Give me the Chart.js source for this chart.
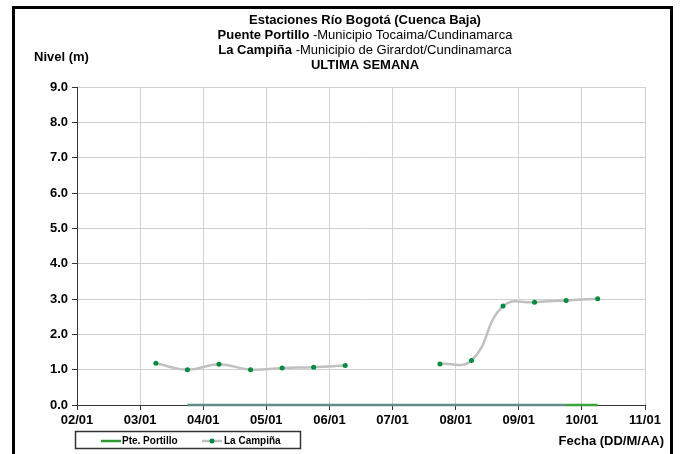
<!DOCTYPE html>
<html>
<head>
<meta charset="utf-8">
<script src="https://cdn.jsdelivr.net/npm/chart.js@4.4.0/dist/chart.umd.min.js"></script>
<style>
body { margin: 0; background: #fff; }
#wrap { position: relative; width: 684px; height: 454px; overflow: hidden; }
#frame { position: absolute; left: 12px; top: 6px; width: 655px; height: 460px; border: 3px solid #000; border-bottom: none; }
</style>
</head>
<body>
<div id="wrap"><canvas id="chartNivel" width="684" height="454"></canvas><div id="frame"></div></div>
<script>
// x values are days of January (3.25 = 03/01 06:00)
var dayTicks = [2, 3, 4, 5, 6, 7, 8, 9, 10, 11];
var tickLabels = ["02/01", "03/01", "04/01", "05/01", "06/01", "07/01", "08/01", "09/01", "10/01", "11/01"];

var portilloTimes = [3.75, 4.25, 4.75, 5.25, 5.75, 6.25, 6.75, 7.25, 7.75, 8.25, 8.75, 9.25, 9.75, 10.25];
var portilloLevels = [0, 0, 0, 0, 0, 0, 0, 0, 0, 0, 0, 0, 0, 0];

var campinaTimes = [3.25, 3.75, 4.25, 4.75, 5.25, 5.75, 6.25, 6.75, 7.25, 7.75, 8.25, 8.75, 9.25, 9.75, 10.25];
var campinaLevels = [1.18, 1.0, 1.15, 1.0, 1.05, 1.07, 1.12, null, null, 1.16, 1.26, 2.8, 2.91, 2.96, 3.01];

var FONT = "'Liberation Sans', Arial, sans-serif";

function pairs(xs, ys) {
    return xs.map(function (x, i) { return { x: x, y: ys[i] }; });
}

var titlePlugin = {
    id: "titleText",
    afterDraw: function (chart) {
        var c = chart.ctx;
        var cx = 365;
        var lines = [
            [["Estaciones Río Bogotá (Cuenca Baja)", true]],
            [["Puente Portillo", true], [" -Municipio Tocaima/Cundinamarca", false]],
            [["La Campiña", true], [" -Municipio de Girardot/Cundinamarca", false]],
            [["ULTIMA SEMANA", true]],
        ];
        c.save();
        c.fillStyle = "#000";
        c.textBaseline = "middle";
        c.textAlign = "left";
        lines.forEach(function (parts, i) {
            var y = 20 + i * 15.3;
            var total = 0;
            parts.forEach(function (p) {
                c.font = (p[1] ? "bold " : "") + "13px " + FONT;
                total += c.measureText(p[0]).width;
            });
            var x = cx - total / 2;
            parts.forEach(function (p) {
                c.font = (p[1] ? "bold " : "") + "13px " + FONT;
                c.fillText(p[0], x, y);
                x += c.measureText(p[0]).width;
            });
        });

        c.font = "bold 13px " + FONT;
        c.fillText("Nivel (m)", 34, 57);
        c.textAlign = "right";
        c.fillText("Fecha (DD/M/AA)", 664, 441);

        // legend box
        c.strokeStyle = "#333";
        c.lineWidth = 1.5;
        c.strokeRect(75.5, 431.5, 225, 17);
        c.lineWidth = 2.5;
        c.strokeStyle = "#2e9a2e";
        c.beginPath(); c.moveTo(101, 441); c.lineTo(121, 441); c.stroke();
        c.strokeStyle = "#c0c0c0";
        c.beginPath(); c.moveTo(202, 441); c.lineTo(222, 441); c.stroke();
        c.fillStyle = "#008a3e";
        c.beginPath(); c.arc(212, 441, 2.5, 0, Math.PI * 2); c.fill();
        c.fillStyle = "#000";
        c.textAlign = "left";
        c.font = "bold 10px " + FONT;
        c.fillText("Pte. Portillo", 122, 441);
        c.fillText("La Campiña", 224, 441);
        c.restore();
    },
};

var ctx = document.getElementById("chartNivel").getContext("2d");

const chartNivel = new Chart(ctx, {
    type: "line",
    data: {
    datasets: [
        {
        label: "Pte. Portillo",
        data: pairs(portilloTimes, portilloLevels),
        borderColor: "#2e9a2e",
        borderWidth: 2.5,
        pointRadius: 0,
        tension: 0,
        clip: 4,
        segment: {
            borderColor: function (s) { return s.p0.parsed.x < 9.75 ? "#5f8f88" : "#3aa33a"; },
        },
        },
        {
        label: "La Campiña",
        data: pairs(campinaTimes, campinaLevels),
        borderColor: "#c0c0c0",
        borderWidth: 2.5,
        backgroundColor: "#008a3e",
        pointBackgroundColor: "#008a3e",
        pointBorderWidth: 0,
        pointRadius: 2.5,
        tension: 0.45,
        spanGaps: false,
        clip: 4,
        },
    ],
    },
    options: {
    responsive: false,
    animation: false,
    layout: {
        padding: { left: 0, top: 87, right: 39, bottom: 19 },
    },
    plugins: {
        legend: { display: false },
        title: { display: false },
        tooltip: { enabled: false },
    },
    scales: {
        x: {
        type: "linear",
        min: 2,
        max: 11,
        afterBuildTicks: function (s) {
            s.ticks = dayTicks.map(function (v) { return { value: v }; });
        },
        afterFit: function (s) { s.height = 30; },
        grid: {
            color: "#d0d0d0",
            tickColor: "#333",
            tickLength: 5,
        },
        border: { color: "#333", width: 1 },
        ticks: {
            color: "#000",
            padding: 3,
            maxRotation: 0,
            font: { family: FONT, size: 13, weight: "bold" },
            callback: function (v) { return tickLabels[dayTicks.indexOf(v)]; },
        },
        },
        y: {
        min: 0,
        max: 9,
        afterFit: function (s) { s.width = 77; },
        grid: {
            color: "#d0d0d0",
            tickColor: "#333",
            tickLength: 5,
        },
        border: { color: "#333", width: 1 },
        ticks: {
            stepSize: 1,
            color: "#000",
            padding: 4,
            font: { family: FONT, size: 13, weight: "bold" },
            callback: function (v) { return v.toFixed(1); },
        },
        },
    },
    },
    plugins: [titlePlugin],
});
</script>
</body>
</html>
